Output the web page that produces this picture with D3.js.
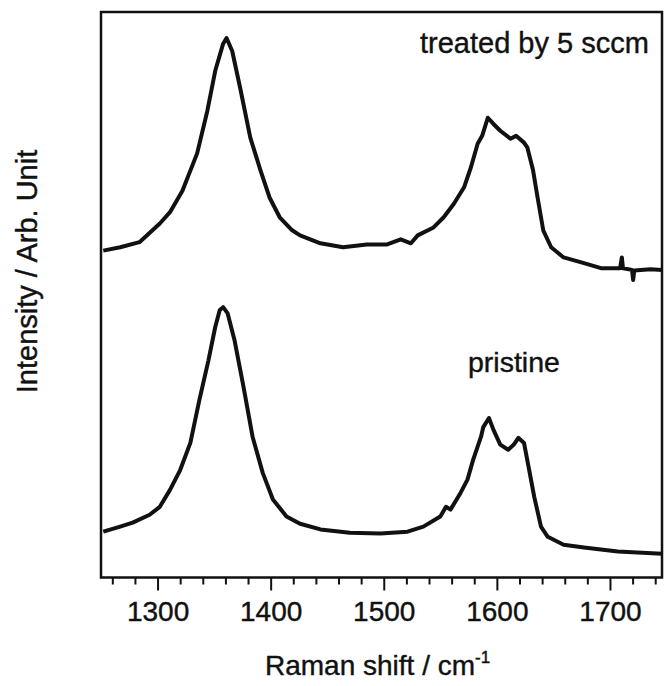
<!DOCTYPE html>
<html>
<head>
<meta charset="utf-8">
<script src="https://cdn.jsdelivr.net/npm/d3@7"></script>
<style>
  body { margin: 0; background: #fff; }
  text { font-family: "Liberation Sans", Arial, sans-serif; fill: #111; stroke: #111; stroke-width: 0.4px; }
</style>
</head>
<body>
<div class="visHolder"></div>
<script>
// Raman shift (cm-1) and intensity (arb. unit)
var treatedShift = [1252, 1267, 1284, 1302, 1311, 1322, 1335, 1344, 1351, 1358, 1361, 1366, 1373, 1382, 1391,
    1399, 1408, 1419, 1426, 1444, 1464, 1485, 1503, 1515, 1524, 1530, 1544, 1553, 1562, 1571, 1577, 1583,
    1587, 1592, 1597, 1603, 1612, 1617, 1624, 1627, 1632, 1636, 1641, 1648, 1659, 1677, 1692, 1709, 1710.5,
    1711.5, 1719.5, 1720.5, 1721.5, 1736, 1750];
var treatedInt = [57.8, 58.4, 59.3, 62.6, 64.6, 68.4, 75.0, 82.5, 89.6, 94.4, 95.4, 93.1, 86.6, 77.8, 72.0,
    67.2, 63.7, 61.4, 60.5, 59.1, 58.4, 58.9, 58.9, 59.8, 59.1, 60.5, 61.9, 63.7, 66.1, 69.0, 72.5, 76.7,
    78.1, 81.3, 80.2, 79.0, 77.6, 78.1, 76.9, 76.0, 72.0, 67.2, 61.4, 58.4, 56.6, 55.6, 54.7, 54.7, 56.6,
    54.7, 54.4, 52.6, 54.3, 54.5, 54.3];

var pristineShift = [1252, 1267, 1278, 1293, 1302, 1311, 1320, 1329, 1337, 1345, 1351, 1355, 1358, 1362, 1368,
    1376, 1384, 1393, 1402, 1414, 1426, 1444, 1470, 1497, 1521, 1535, 1550, 1555, 1559, 1568, 1574, 1579,
    1586, 1588, 1593, 1597, 1603, 1610, 1615, 1619, 1624, 1628, 1633, 1639, 1645, 1659, 1677, 1707, 1748];
var pristineInt = [8.1, 9.0, 9.7, 11.1, 12.5, 15.5, 19.0, 23.8, 31.4, 38.4, 44.3, 47.3, 47.8, 46.7, 42.0,
    33.7, 24.9, 18.5, 13.8, 10.8, 9.5, 8.5, 7.9, 7.8, 8.1, 9.0, 10.8, 12.5, 12.0, 15.0, 17.3, 20.8,
    24.9, 26.6, 28.2, 26.1, 23.5, 22.6, 23.5, 24.7, 23.8, 19.6, 14.3, 9.0, 7.2, 5.8, 5.3, 4.6, 4.2];

var majorTicks = [1300, 1400, 1500, 1600, 1700];
var minorTicks = [1260, 1280, 1320, 1340, 1360, 1380, 1420, 1440, 1460, 1480, 1520, 1540, 1560, 1580,
    1620, 1640, 1660, 1680, 1720, 1740];

var margin = { top: 12, right: 3, bottom: 108.5, left: 101 },
    width = 665 - margin.left - margin.right,
    height = 686 - margin.top - margin.bottom;

var svg = d3.select(".visHolder")
    .append("svg")
    .attr("width", 665)
    .attr("height", 686)

var g = svg.append("g")
    .attr("transform", `translate(${margin.left},${margin.top})`)

var x = d3.scaleLinear().domain([1250, 1746]).range([0, width])
var y = d3.scaleLinear().domain([0, 100]).range([height, 0])

g.append("clipPath").attr("id", "clip")
    .append("rect").attr("width", width).attr("height", height)

var line = d3.line()
    .x((d) => x(d[0]))
    .y((d) => y(d[1]))

var series = [
    d3.zip(treatedShift, treatedInt),
    d3.zip(pristineShift, pristineInt)
]

g.selectAll(".spec")
    .data(series)
    .enter()
    .append("path")
    .attr("class", "spec")
    .attr("clip-path", "url(#clip)")
    .attr("d", line)
    .style("fill", "none")
    .style("stroke", "#111")
    .style("stroke-width", 4)
    .style("stroke-linejoin", "round")

// minor ticks
g.append("g")
    .attr("transform", `translate(0,${height})`)
    .call(d3.axisBottom(x).tickValues(minorTicks).tickSize(7).tickFormat(""))
    .call((a) => a.select(".domain").remove())
    .selectAll("line").style("stroke", "#111").style("stroke-width", 2)

// major ticks + labels
var xAxis = g.append("g")
    .attr("transform", `translate(0,${height})`)
    .call(d3.axisBottom(x).tickValues(majorTicks).tickSize(13).tickPadding(10.5).tickFormat(d3.format("d")))
xAxis.select(".domain").remove()
xAxis.selectAll("line").style("stroke", "#111").style("stroke-width", 2)
xAxis.selectAll("text").style("font-size", "28px").style("font-family", "Liberation Sans, Arial, sans-serif")

// frame
g.append("rect")
    .attr("width", width)
    .attr("height", height)
    .style("fill", "none")
    .style("stroke", "#111")
    .style("stroke-width", 2.5)

// labels
svg.append("text")
    .text("treated by 5 sccm")
    .attr("x", 420)
    .attr("y", 53)
    .style("font-size", "29px")

svg.append("text")
    .text("pristine")
    .attr("x", 468)
    .attr("y", 372)
    .style("font-size", "28.5px")

var xt = svg.append("text")
    .attr("x", 265)
    .attr("y", 675)
    .style("font-size", "28px")
xt.append("tspan").text("Raman shift / cm")
xt.append("tspan").text("-1").attr("dy", -12).style("font-size", "17px")

svg.append("text")
    .text("Intensity / Arb. Unit")
    .attr("transform", "translate(37,271.5) rotate(-90)")
    .style("text-anchor", "middle")
    .style("font-size", "29px")
</script>
</body>
</html>
